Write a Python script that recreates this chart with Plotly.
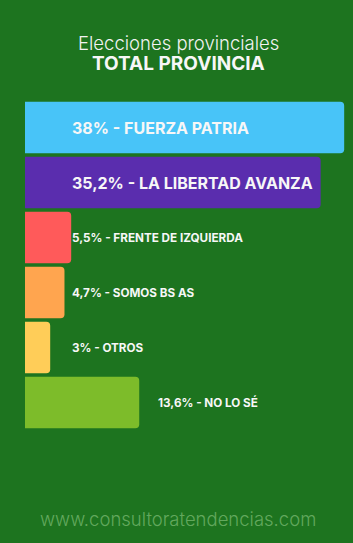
import plotly.graph_objects as go

parties = ["FUERZA PATRIA", "LA LIBERTAD AVANZA", "FRENTE DE IZQUIERDA", "SOMOS BS AS", "OTROS", "NO LO SÉ"]
values = [38.0, 35.2, 5.5, 4.7, 3.0, 13.6]
value_text = ["38%", "35,2%", "5,5%", "4,7%", "3%", "13,6%"]
colors = ["#48C4F8", "#5A2DAE", "#FF5A5A", "#FFA54F", "#FFCD58", "#7DBC2A"]

BG = "#1D741F"
W, H = 353, 543
ML, MT, MB = 25, 100, 113

fig = go.Figure()
fig.add_trace(go.Bar(
    y=parties, x=values, orientation="h",
    marker=dict(color=colors, line=dict(width=0)),
    hoverinfo="skip",
))

for p, v, t in zip(parties, values, value_text):
    big = v > 30
    lx = 5.3 if (big or v < 8) else v + 2.0
    fig.add_annotation(
        x=lx, y=p, xref="x", yref="y", xanchor="left", yanchor="middle",
        text=f"<b>{t} - {p}</b>", showarrow=False,
        font=dict(family="Inter", size=16 if big else 11.7, color="#F7F7F7"),
    )

fig.update_layout(
    width=W, height=H,
    margin=dict(l=ML, r=0, t=MT, b=MB),
    paper_bgcolor=BG, plot_bgcolor=BG,
    bargap=0.06, barcornerradius=4,
    showlegend=False,
    xaxis=dict(range=[0, 39.05], visible=False, fixedrange=True),
    yaxis=dict(autorange="reversed", visible=False, fixedrange=True),
)

def py(ypix):
    return (H - MB - ypix) / (H - MT - MB)

def px(xpix):
    return (xpix - ML) / (W - ML)

fig.add_annotation(x=px(178), y=py(43), xref="paper", yref="paper", xanchor="center", yanchor="middle",
                   text="Elecciones provinciales", showarrow=False,
                   font=dict(family="Inter", size=18.5, color="#F2F2F2", weight=300))
fig.add_annotation(x=px(178), y=py(64), xref="paper", yref="paper", xanchor="center", yanchor="middle",
                   text="<b>TOTAL PROVINCIA</b>", showarrow=False,
                   font=dict(family="Inter", size=19, color="#F7F7F7"))
fig.add_annotation(x=px(178), y=py(519), xref="paper", yref="paper", xanchor="center", yanchor="middle",
                   text="www.consultoratendencias.com", showarrow=False,
                   font=dict(family="Inter", size=18.5, color="#62A85D", weight=300))

fig.write_html("out.html")
